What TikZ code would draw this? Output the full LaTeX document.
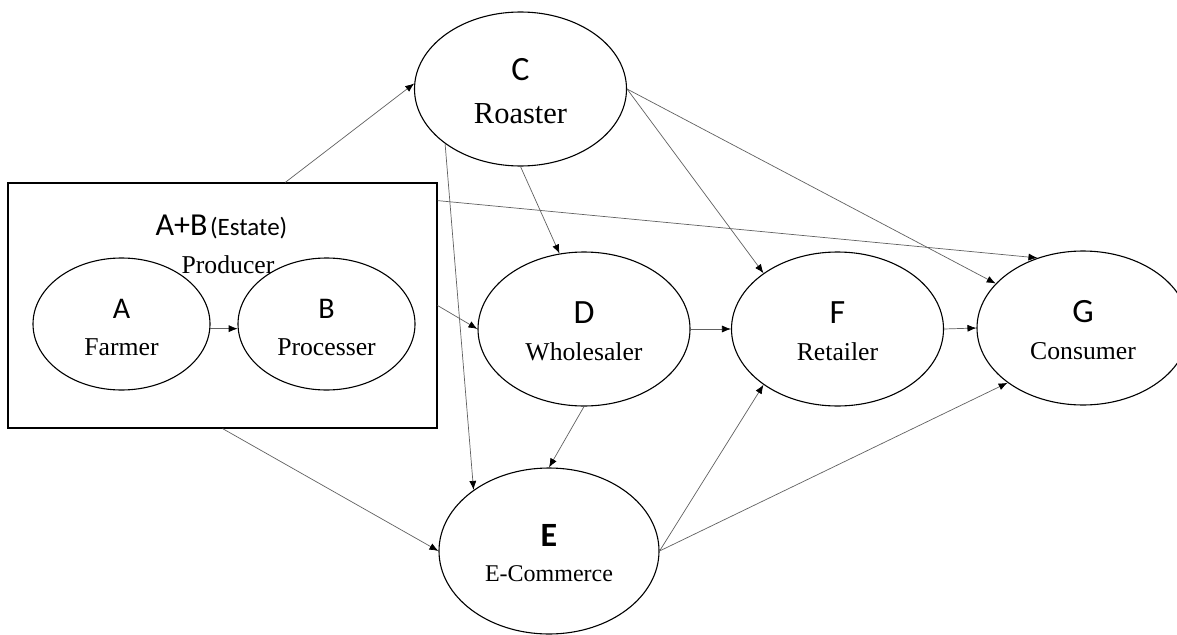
\documentclass[tikz,border=0pt]{standalone}
\usepackage{fontspec}
\setmainfont{Liberation Serif}
\newfontfamily\letterfont{Carlito}
\usetikzlibrary{shapes.geometric,arrows.meta}

% big sans-serif letter that tags each stage
\newcommand\entletter[2][34]{{\letterfont\fontsize{#1}{37}\selectfont #2}}
% strut that sets where the two lines sit inside an ellipse
\newcommand\entstrut{\rule{0pt}{27pt}}

\begin{document}
\begin{tikzpicture}[x=1pt,y=-1pt,
  ent/.style={draw, ellipse, line width=1.1pt, inner sep=0pt, align=center,
    font=\fontsize{25.7}{37}\selectfont,
    minimum width=212pt, minimum height=154pt},
  small ent/.style={ent, minimum width=177pt, minimum height=132pt},
  group box/.style={draw, line width=1.1pt, inner sep=0pt,
    minimum width=429pt, minimum height=245pt},
  flow/.style={draw=black!62, line width=0.7pt,
    -{Latex[length=9pt,width=7pt,color=black]}},
]
\fill[white] (0,0) rectangle (1177,634);
\clip (0,0) rectangle (1177,634);

% producer group: farmer and processer
\node[group box] (P) at (222.5,305.5) {};
\node[anchor=base] (Ptitle) at (221.5,235)
  {\entletter[32]{A+B} {\letterfont\fontsize{25}{25}\selectfont (Estate)}};
\node[anchor=base, font=\fontsize{25.7}{30}\selectfont] (Psub) at (228,273) {Producer};

\node[small ent] (A) at (121.5,324) {\entstrut\entletter[30]{A}\\Farmer};
\node[small ent] (B) at (326.5,324) {\entstrut\entletter[30]{B}\\Processer};

% supply chain stages
\node[ent, font=\fontsize{25.7}{43}\selectfont] (C) at (520.5,89)
  {\entstrut\entletter{C}\\{\fontsize{30.5}{30.5}\selectfont Roaster}};
\node[ent] (D) at (584,329) {\entstrut\entletter{D}\\Wholesaler};
\node[ent, minimum width=220pt, minimum height=166pt, font=\fontsize{24}{35}\selectfont] (E) at (549,551)
  {\entstrut\entletter{\bfseries E}\\E-Commerce};
\node[ent] (F) at (837.5,329) {\entstrut\entletter{F}\\Retailer};
\node[ent] (G) at (1083,328) {\entstrut\entletter{G}\\Consumer};

% flows between the stages
\draw[flow] (A.-3) -- (B.183);
\draw[flow] (P.63.7) -- (C.177.9);
\draw[flow] (P.26) -- (G.123.7);
\draw[flow] (P.east) -- (D.west);
\draw[flow] (P.south) -- (E.west);
\draw[flow] (C.south) -- (D.108);
\draw[flow] (C.216.9) -- (E.141.6);
\draw[flow] (C.east) -- (F.143.4);
\draw[flow] (C.east) -- (G.153.4);
\draw[flow] (D.east) -- (F.west);
\draw[flow] (D.south) -- (E.north);
\draw[flow] (F.east) -- (G.west);
\draw[flow] (E.east) -- (F.217);
\draw[flow] (E.east) -- (G.216.5);
\end{tikzpicture}
\end{document}
